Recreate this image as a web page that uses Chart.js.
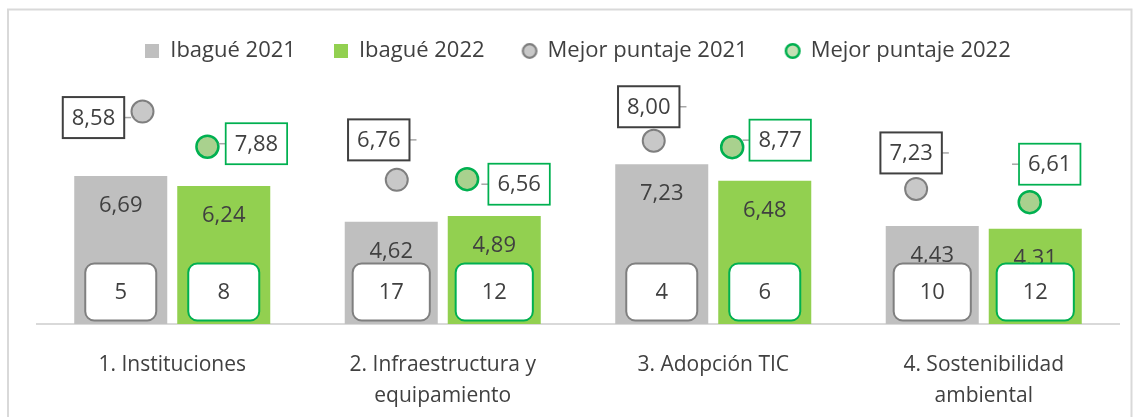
<!DOCTYPE html>
<html>
<head>
<meta charset="utf-8">
<script src="https://cdn.jsdelivr.net/npm/chart.js@4.4.1/dist/chart.umd.min.js"></script>
<style>
  body { margin: 0; background: #fff; }
  #wrap { position: relative; width: 1133px; height: 417px; }
</style>
</head>
<body>
<div id="wrap"><canvas id="chart"></canvas></div>
<script>
const categorias = ['1. Instituciones', ['2. Infraestructura y', 'equipamiento'], '3. Adopción TIC', ['4. Sostenibilidad', 'ambiental']];
const ibague2021 = [6.69, 4.62, 7.23, 4.43];
const ibague2022 = [6.24, 4.89, 6.48, 4.31];
const puesto2021 = [5, 17, 4, 10];
const puesto2022 = [8, 12, 6, 12];
const mejor2021 = [8.58, 6.76, 8.00, 7.23];
const mejor2022 = [7.88, 6.56, 8.77, 6.61];
// where the dots sit in the picture: x along the category axis (0 = centre of first category), y in score units
const mejorX2021 = [-0.11, 0.83, 1.78, 2.75];
const mejorY2021 = [9.61, 6.52, 8.29, 6.11];
const mejorX2022 = [0.13, 1.09, 2.07, 3.17];
const mejorY2022 = [8.02, 6.55, 8.00, 5.51];

const TEXT = '#404040';
const FONT = "'Open Sans', sans-serif";
Chart.defaults.font.family = FONT;
const fmt = v => v.toFixed(2).replace('.', ',');

function marker(w, h, draw) {
  const c = document.createElement('canvas');
  c.width = w; c.height = h;
  draw(c.getContext('2d'));
  return c;
}
const legendMarks = [
  marker(14, 14, g => { g.fillStyle = '#bfbfbf'; g.fillRect(0, 0, 14, 14); }),
  marker(14, 14, g => { g.fillStyle = '#92d050'; g.fillRect(0, 0, 14, 14); }),
  marker(18, 18, g => {
    g.beginPath(); g.arc(9, 9, 6.8, 0, Math.PI * 2);
    g.fillStyle = '#c8c8c8'; g.fill();
    g.lineWidth = 2.2; g.strokeStyle = '#7f7f7f'; g.stroke();
  }),
  marker(18, 18, g => {
    g.beginPath(); g.arc(9, 9, 6.8, 0, Math.PI * 2);
    g.fillStyle = '#c5e0b4'; g.fill();
    g.lineWidth = 2.5; g.strokeStyle = '#00b050'; g.stroke();
  })
];

// bar values, rank boxes and the boxed labels of the dots
const etiquetas = {
  id: 'etiquetas',
  beforeDraw(chart) {
    const ctx = chart.ctx;
    ctx.save();
    ctx.strokeStyle = '#d9d9d9';
    ctx.lineWidth = 2;
    ctx.strokeRect(8, 9.5, 1123.5, 500);
    ctx.restore();
  },
  afterDatasetsDraw(chart, args, opts) {
    const ctx = chart.ctx;
    ctx.save();
    ctx.font = '22px ' + FONT;
    ctx.textAlign = 'center';
    ctx.textBaseline = 'middle';

    [[0, puesto2021, '#7f7f7f'], [1, puesto2022, '#00b050']].forEach(([di, puestos, borde]) => {
      chart.getDatasetMeta(di).data.forEach((bar, i) => {
        ctx.fillStyle = TEXT;
        ctx.fillText(fmt(chart.data.datasets[di].data[i]), bar.x, bar.y + 30);
        const txt = String(puestos[i]);
        const w = Math.max(71, ctx.measureText(txt).width + 52);
        const h = 57, cy = bar.base - 32;
        ctx.beginPath();
        ctx.roundRect(bar.x - w / 2, cy - h / 2, w, h, 9);
        ctx.fillStyle = '#fff';
        ctx.fill();
        ctx.lineWidth = 2;
        ctx.strokeStyle = borde;
        ctx.stroke();
        ctx.fillStyle = TEXT;
        ctx.fillText(txt, bar.x, cy + 1);
      });
    });

    [[2, mejor2021, '#404040', 1, 2], [3, mejor2022, '#00b050', -1, 1.75]].forEach(([di, valores, borde, lado, lw]) => {
      const offs = opts.offsets[di - 2];
      chart.getDatasetMeta(di).data.forEach((pt, i) => {
        const txt = fmt(valores[i]);
        const w = ctx.measureText(txt).width + 18, h = 41;
        const cx = pt.x + offs[i][0], cy = pt.y + offs[i][1];
        const sx = cx + lado * w / 2;
        ctx.beginPath();
        ctx.moveTo(sx, cy);
        ctx.lineTo(sx + lado * 7, cy);
        ctx.strokeStyle = '#a6a6a6';
        ctx.lineWidth = 1.5;
        ctx.stroke();
        ctx.fillStyle = '#fff';
        ctx.fillRect(cx - w / 2, cy - h / 2, w, h);
        ctx.strokeStyle = borde;
        ctx.lineWidth = lw;
        ctx.strokeRect(cx - w / 2, cy - h / 2, w, h);
        ctx.fillStyle = TEXT;
        ctx.fillText(txt, cx, cy + 1);
      });
    });
    ctx.restore();
  }
};

new Chart(document.getElementById('chart'), {
  type: 'bar',
  data: {
    labels: categorias,
    datasets: [{
      label: 'Ibagué 2021',
      data: ibague2021,
      backgroundColor: '#bfbfbf',
      categoryPercentage: 0.7616,
      barPercentage: 0.903
    }, {
      label: 'Ibagué 2022',
      data: ibague2022,
      backgroundColor: '#92d050',
      categoryPercentage: 0.7616,
      barPercentage: 0.903
    }, {
      type: 'scatter',
      label: 'Mejor puntaje 2021',
      data: mejorX2021.map((x, i) => ({x: x, y: mejorY2021[i]})),
      parsing: false,
      pointRadius: 11,
      pointBorderWidth: 2,
      backgroundColor: '#c8c8c8',
      borderColor: '#7f7f7f'
    }, {
      type: 'scatter',
      label: 'Mejor puntaje 2022',
      data: mejorX2022.map((x, i) => ({x: x, y: mejorY2022[i]})),
      parsing: false,
      pointRadius: 11,
      pointBorderWidth: 2.5,
      backgroundColor: '#a9d18e',
      borderColor: '#00b050'
    }]
  },
  options: {
    responsive: true,
    maintainAspectRatio: false,
    animation: false,
    events: [],
    layout: { padding: { left: 37, right: 14, top: 2, bottom: 0 } },
    scales: {
      x: {
        offset: true,
        grid: { display: false, drawTicks: false },
        border: { display: true, color: '#d9d9d9', width: 2 },
        ticks: { color: TEXT, font: { size: 21, lineHeight: '31px' }, padding: 26, maxRotation: 0, autoSkip: false },
        afterFit(s) { s.height = 93; }
      },
      y: { min: 0, max: 11.4, display: false }
    },
    plugins: {
      tooltip: { enabled: false },
      legend: {
        position: 'top',
        labels: {
          usePointStyle: true,
          boxWidth: 14,
          boxHeight: 14,
          padding: 38,
          color: TEXT,
          font: { size: 22 },
          generateLabels(chart) {
            const items = Chart.defaults.plugins.legend.labels.generateLabels(chart);
            items.forEach(it => { it.pointStyle = legendMarks[it.datasetIndex]; });
            return items;
          }
        }
      },
      etiquetas: {
        offsets: [
          [[-49, 6], [-18, -40], [-5, -34], [-5, -36]],
          [[49, -3], [52, 5], [48, -7], [20, -38]]
        ]
      }
    }
  },
  plugins: [etiquetas]
});
</script>
</body>
</html>
